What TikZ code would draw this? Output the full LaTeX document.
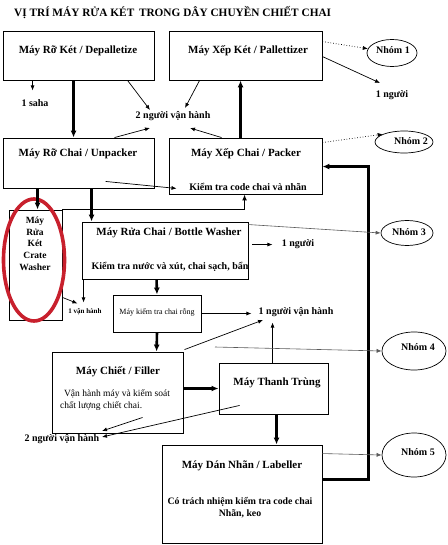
\documentclass[tikz,border=0pt]{standalone}
\usepackage{fontspec}
\setmainfont{Liberation Serif}
\usetikzlibrary{arrows.meta,shapes.geometric}
\definecolor{ring}{RGB}{200,32,45}
\definecolor{lgray}{RGB}{90,90,90}
\begin{document}
\begin{tikzpicture}[x=1pt,y=-1pt,
  box/.style={draw,line width=0.9pt,inner sep=0pt},
  ell/.style={draw,ellipse,line width=0.7pt,inner sep=0pt},
  lbl/.style={inner sep=0pt,font=\bfseries\fontsize{10}{12}\selectfont},
  ttl/.style={inner sep=0pt,font=\bfseries\fontsize{11}{13}\selectfont},
  sml/.style={inner sep=0pt,font=\fontsize{9.5}{11.5}\selectfont},
  arr/.style={line width=0.7pt,-{Latex[length=5pt,width=4pt]}},
  tarr/.style={line width=2.6pt,-{Latex[length=7pt,width=6pt]}},
  marr/.style={line width=1.8pt,-{Latex[length=6pt,width=5pt]}},
  grayarr/.style={line width=0.6pt,draw=lgray,-{Latex[length=5pt,width=4pt]}},
  dotarr/.style={line width=0.7pt,dotted,-{Latex[length=5pt,width=4pt]}}]
\useasboundingbox[fill=white] (0,0) rectangle (447,545);

% title
\node[anchor=west,inner sep=0pt,font=\bfseries\fontsize{11.3}{13}\selectfont] (title) at (14,13) {VỊ TRÍ MÁY RỬA KÉT\, TRONG DÂY CHUYỀN CHIẾT CHAI};

% boxes
\node[box,minimum width=151pt,minimum height=49pt] (dep) at (78.5,55.5) {};
\node[box,minimum width=153pt,minimum height=49pt] (pal) at (245.5,55.5) {};
\node[box,minimum width=151pt,minimum height=50pt] (unp) at (78.5,163) {};
\node[box,minimum width=153pt,minimum height=56pt] (pack) at (245.5,166) {};
\node[box,minimum width=53pt,minimum height=110pt] (crate) at (35.5,265) {};
\node[box,minimum width=166pt,minimum height=57pt] (bw) at (165,250.5) {};
\node[box,minimum width=88pt,minimum height=37pt] (kt) at (157,313.5) {};
\node[box,minimum width=131pt,minimum height=81pt] (fill) at (117.5,392.5) {};
\node[box,minimum width=109pt,minimum height=51pt] (tt) at (273.5,388.5) {};
\node[box,minimum width=160pt,minimum height=98pt] (lab) at (242,494) {};

% box texts
\node[ttl] (tdep) at (78,51) {Máy Rỡ Két / Depalletize};
\node[ttl] (tpal) at (248,51) {Máy Xếp Két / Pallettizer};
\node[ttl] (tunp) at (78,154) {Máy Rỡ Chai / Unpacker};
\node[ttl] (tpack) at (246,154) {Máy Xếp Chai / Packer};
\node[lbl] (kpack) at (248,187) {Kiểm tra code chai và nhãn};
\node[inner sep=0pt,align=center,font=\bfseries\fontsize{9.5}{11.7}\selectfont] (tcrate) at (35,243.5) {Máy\\Rửa\\Két\\Crate\\Washer};
\node[ttl] (tbw) at (169,233) {Máy Rửa Chai / Bottle Washer};
\node[lbl] (kbw) at (170,267) {Kiểm tra nước và xút, chai sạch, bẩn};
\node[inner sep=0pt,font=\fontsize{8}{10}\selectfont] (tkt) at (157,312) {Máy kiểm tra chai rỗng};
\node[ttl] (tfill) at (118,372) {Máy Chiết / Filler};
\node[sml] (kfill1) at (117,394) {Vận hành máy và kiểm soát};
\node[sml,anchor=west] (kfill2) at (60,406) {chất lượng chiết chai.};
\node[ttl] (ttt) at (277,383) {Máy Thanh Trùng};
\node[ttl] (tlab) at (242,466) {Máy Dán Nhãn / Labeller};
\node[lbl,align=center,font=\bfseries\fontsize{9.8}{11.5}\selectfont] (klab) at (240,507.5) {Có trách nhiệm kiểm tra code chai\\Nhãn, keo};

% group ellipses
\node[ell,minimum width=50pt,minimum height=27pt] (n1) at (392,53) {};
\node[ell,minimum width=58pt,minimum height=22pt] (n2) at (404,142) {};
\node[ell,minimum width=52pt,minimum height=25pt] (n3) at (407,233) {};
\node[ell,minimum width=64pt,minimum height=38pt] (n4) at (414,351) {};
\node[ell,minimum width=64pt,minimum height=44pt] (n5) at (414,455) {};
\node[lbl] (tn1) at (393,50) {Nhóm 1};
\node[lbl] (tn2) at (411,141) {Nhóm 2};
\node[lbl] (tn3) at (409,232) {Nhóm 3};
\node[lbl] (tn4) at (418,347) {Nhóm 4};
\node[lbl] (tn5) at (418,452) {Nhóm 5};

% red ring
\node[draw=ring,line width=3.6pt,ellipse,minimum width=61pt,minimum height=122pt,inner sep=0pt] (redring) at (34,260) {};

% labels
\node[lbl] (saha) at (35,103) {1 saha};
\node[lbl] (op2) at (173,116) {2 người vận hành};
\node[lbl] (p1) at (392,95) {1 người};
\node[lbl] (p1b) at (298,244) {1 người};
\node[inner sep=0pt,font=\bfseries\fontsize{7}{8}\selectfont] (vh1) at (85,312) {1 vận hành};
\node[lbl] (op1) at (296,312) {1 người vận hành};
\node[lbl] (op2b) at (62,439) {2 người vận hành};

% free ends
\coordinate (c1) at (150,110);
\coordinate (c2) at (185,108);
\coordinate (c3) at (150,128);
\coordinate (c4) at (190,128);
\coordinate (c5) at (380,83);
\coordinate (c6) at (263,320);
\coordinate (c7) at (215,347);
\coordinate (c8) at (102,431);
\coordinate (c9) at (102,437);

% connectors
\draw[arr] ([xshift=30pt]dep.south west) -- ++(0,10);
\draw[tarr] ([xshift=71pt]dep.south west) -- ([xshift=71pt]unp.north west);
\draw[arr] ([xshift=125pt]dep.south west) -- (c1);
\draw[arr] ([xshift=31pt]pal.south west) -- (c2);
\draw[tarr] ([xshift=72pt]pack.north west) -- ([xshift=72pt]pal.south west);
\draw[arr] ([xshift=112pt]unp.north west) -- (c3);
\draw[arr] ([xshift=53pt]pack.north west) -- (c4);
\draw[dotarr] ([yshift=-11pt]pal.north east) -- (n1.170);
\draw[arr] ([yshift=-26pt]pal.north east) -- (c5);
\draw[dotarr] ([yshift=-5pt]pack.north east) -- (n2.160);
\draw[arr] ([xshift=103pt,yshift=7pt]unp.south west) -- ([xshift=8pt,yshift=6pt]pack.south west);
\draw[tarr] ([xshift=35pt]unp.south west) -- ([xshift=29pt]crate.north west);
\draw[tarr] ([xshift=89pt]unp.south west) -- ([xshift=10pt]bw.north west);
\draw[marr] (crate.north east) -| ([xshift=76pt]pack.south west);
\draw[tarr] ([yshift=-35pt]lab.north east) -- ++(46,0) |- ([yshift=-29pt]pack.north east);
\draw[grayarr] ([yshift=-3pt]bw.north east) -- (n3.west);
\draw[arr] ([xshift=4pt,yshift=-23pt]bw.north east) -- ++(20,0);
\draw[arr] ([xshift=2pt]bw.south west) -- ++(0,23);
\draw[arr] ([yshift=23pt]crate.south east) -- ++(15,6);
\draw[tarr] ([xshift=75pt]bw.south west) -- (kt.north);
\draw[arr] (kt.east) -- ++(50,0);
\draw[arr] ([xshift=133pt,yshift=2pt]fill.north west) -- (c6);
\draw[arr] ([xshift=54pt]tt.north west) -- ++(0,-40);
\draw[tarr] (kt.south) -- ([xshift=105pt]fill.north west);
\draw[grayarr] (c7) -- (n4.west);
\draw[tarr] (fill.east |- tt.west) -- (tt.west);
\draw[arr] ([xshift=91pt,yshift=16pt]fill.south west) -- (c8);
\draw[arr] ([xshift=21pt,yshift=9pt]tt.south west) -- (c9);
\draw[tarr] ([xshift=58pt]tt.south west) -- ([xshift=115pt]lab.north west);
\draw[grayarr] ([yshift=-9pt]lab.north east) -- (n5.west);
\end{tikzpicture}
\end{document}
